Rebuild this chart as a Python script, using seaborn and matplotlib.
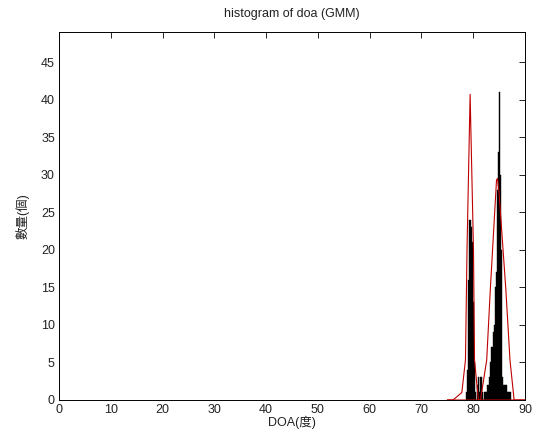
import numpy as np
import pandas as pd
import matplotlib
matplotlib.use("Agg")
import matplotlib.pyplot as plt
import seaborn as sns

# ---- data ----
bin_width = 0.2
bin_left = [78.6, 78.8, 79.0, 79.2, 79.4, 79.6, 79.8, 80.0, 80.2, 80.4,
            80.6, 80.8, 81.0, 81.2, 81.4, 81.6, 81.8, 82.0, 82.2, 82.4,
            82.6, 82.8, 83.0, 83.2, 83.4, 83.6, 83.8, 84.0, 84.2, 84.4,
            84.6, 84.8, 85.0, 85.2, 85.4, 85.6, 85.8, 86.0, 86.2, 86.4,
            86.6, 86.8, 87.0]
counts = [1, 4, 16, 24, 24, 23, 21, 13, 5, 1,
          0, 2, 3, 1, 3, 1, 0, 1, 1, 1,
          2, 2, 3, 5, 7, 7, 9, 10, 15, 17,
          28, 33, 41, 30, 20, 3, 2, 2, 2, 2,
          1, 1, 1]

gmm1_x = [75.0, 76.1, 77.8, 78.5, 78.8, 79.4, 80.05, 80.25, 81.0, 90.0]
gmm1_y = [0.0, 0.0, 1.0, 5.3, 20.0, 40.7, 20.0, 5.3, 0.0, 0.0]
gmm2_x = [75.0, 81.4, 82.6, 83.3, 84.5, 84.7, 85.0, 86.3, 87.1, 87.9, 90.0]
gmm2_y = [0.0, 0.0, 5.3, 14.7, 29.3, 29.5, 27.5, 14.7, 5.3, 0.0, 0.0]

x_ticks = [0, 10, 20, 30, 40, 50, 60, 70, 80, 90]
y_ticks = [0, 5, 10, 15, 20, 25, 30, 35, 40, 45]

title = "histogram of doa (GMM)"
xlabel = "DOA(度)"
ylabel = "數量(個)"

# ---- style ----
sns.set_style("white")
plt.rcParams['font.family'] = ['Liberation Sans', 'Noto Sans CJK TC', 'DejaVu Sans']

fig = plt.figure(figsize=(5.45, 4.41), dpi=100)
ax = fig.add_axes([59/545, 41/441, 466/545, 368/441])

hist_df = pd.DataFrame({"doa": np.array(bin_left) + bin_width / 2, "n": counts})
sns.histplot(data=hist_df, x="doa", weights="n", binwidth=bin_width,
             binrange=(bin_left[0], bin_left[-1] + bin_width), ax=ax,
             color="black", edgecolor="black", linewidth=0.3, alpha=1.0)

g1 = pd.DataFrame({"x": gmm1_x, "y": gmm1_y})
g2 = pd.DataFrame({"x": gmm2_x, "y": gmm2_y})
sns.lineplot(data=g1, x="x", y="y", ax=ax, color="#c00000", linewidth=0.8,
             sort=False, estimator=None)
sns.lineplot(data=g2, x="x", y="y", ax=ax, color="#c00000", linewidth=0.8,
             sort=False, estimator=None)

ax.set_xlim(0, 90)
ax.set_ylim(0, 49)
ax.set_xticks(x_ticks)
ax.set_yticks(y_ticks)
ax.tick_params(direction="in", length=4, width=0.6, top=True, right=True,
               labelsize=9, colors="black", labelcolor="#222222", pad=3)
for s in ax.spines.values():
    s.set_visible(True)
    s.set_color("black")
    s.set_linewidth(0.7)

ax.set_title(title, fontsize=9, pad=11, color="#222222")
ax.set_xlabel(xlabel, fontsize=9, labelpad=0, color="#222222")
ax.set_ylabel(ylabel, fontsize=9, labelpad=8, color="#222222")

fig.savefig("out.png", dpi=100, facecolor="white")
